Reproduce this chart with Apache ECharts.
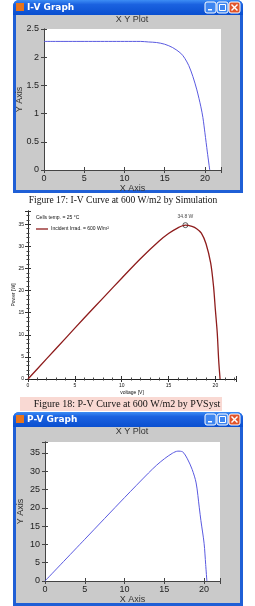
<!DOCTYPE html>
<html>
<head>
<meta charset="utf-8">
<script src="https://cdn.jsdelivr.net/npm/echarts@6/dist/echarts.min.js"></script>
<style>
  html, body { margin: 0; padding: 0; background: #fff; }
  #chart { width: 255px; height: 606px; }
</style>
</head>
<body>
<div id="chart"></div>
<script>
// I-V curve, simulation (Figure 17)
const ivVoltage = [0, 2, 4, 6, 8, 10, 12, 13, 14, 15, 16, 17, 17.5, 18, 18.5, 19, 19.5, 19.75, 20, 20.3, 20.6]
const ivCurrent = [2.28, 2.28, 2.28, 2.28, 2.28, 2.28, 2.28, 2.27, 2.26, 2.23, 2.17, 2.07, 1.98, 1.85, 1.66, 1.42, 1.12, 0.93, 0.66, 0.32, 0]

// P-V curve, PVSyst (Figure 18)
const pvsystVoltage = [0, 2, 4, 6, 8, 10, 12, 14, 15, 16, 16.8, 17.5, 18, 18.5, 19, 19.5, 19.8, 20, 20.2, 20.35, 20.5]
const pvsystPower = [0, 4.6, 9.2, 13.8, 18.3, 22.8, 27.2, 31.2, 32.9, 34.2, 34.8, 34.5, 34.0, 33.0, 30.6, 26.2, 21.0, 15.6, 10.4, 4.3, 0]
const pvsystPeak = [16.8, 34.8]

// P-V curve, simulation
const pvVoltage = [0, 5, 10, 13, 14, 15, 16, 16.7, 17.3, 17.9, 18.5, 19, 19.4, 19.6, 20, 20.2, 20.35]
const pvPower = [0, 11.4, 22.8, 29.5, 31.6, 33.4, 34.9, 35.5, 35.3, 33.4, 30.5, 26.8, 20.0, 16.5, 10.3, 4.5, 0]

const pair = (xs, ys) => xs.map((x, i) => [x, ys[i]])

const matFont = 'Liberation Sans, Arial, sans-serif'
const serif = 'Liberation Serif, Times New Roman, serif'

// only label the nice ticks, not the axis end
const onStep = step => v => (Math.abs(v / step - Math.round(v / step)) < 1e-6 ? String(v) : '')

function matX(grid, show) {
  return {
    type: 'value', gridIndex: grid, min: 0, max: 22, interval: 5,
    position: show ? 'bottom' : 'top',
    name: show ? 'X Axis' : '', nameLocation: 'middle', nameGap: 14,
    nameTextStyle: { fontSize: 9, color: '#333', fontFamily: matFont },
    axisLine: { show: true, lineStyle: { color: '#444', width: 1 } },
    axisTick: { show: true, inside: true, length: 3, lineStyle: { color: '#444' } },
    axisLabel: { show: show, fontSize: 9, color: '#222', fontFamily: matFont, margin: 4, formatter: onStep(5) },
    splitLine: { show: false }
  }
}
function matY(grid, show, max, interval) {
  return {
    type: 'value', gridIndex: grid, min: 0, max: max, interval: interval,
    position: show ? 'left' : 'right',
    name: show ? 'Y Axis' : '', nameLocation: 'middle', nameGap: 20, nameMoveOverlap: false,
    nameTextStyle: { fontSize: 9, color: '#333', fontFamily: matFont },
    axisLine: { show: true, lineStyle: { color: '#444', width: 1 } },
    axisTick: { show: true, inside: true, length: 3, lineStyle: { color: '#444' } },
    axisLabel: { show: show, fontSize: 9, color: '#222', fontFamily: matFont, margin: 5, formatter: onStep(interval) },
    splitLine: { show: false }
  }
}
function pvsX(show) {
  return {
    type: 'value', gridIndex: 1, min: 0, max: 22.2, interval: 5,
    position: show ? 'bottom' : 'top',
    name: show ? 'voltage [V]' : '', nameLocation: 'middle', nameGap: 11,
    nameTextStyle: { fontSize: 5, color: '#111', fontFamily: matFont },
    axisLine: { show: true, lineStyle: { color: '#222', width: 1 } },
    axisTick: { show: true, inside: true, length: 3, lineStyle: { color: '#333' } },
    minorTick: { show: true, splitNumber: 5, length: 1.5, lineStyle: { color: '#444' } },
    axisLabel: { show: show, fontSize: 5, color: '#111', fontFamily: matFont, margin: 4, formatter: onStep(5) },
    splitLine: { show: false }
  }
}
function pvsY(show) {
  return {
    type: 'value', gridIndex: 1, min: 0, max: 38, interval: 5,
    position: show ? 'left' : 'right',
    name: show ? 'Power [W]' : '', nameLocation: 'middle', nameGap: 12, nameMoveOverlap: false,
    nameTextStyle: { fontSize: 5, color: '#111', fontFamily: matFont },
    axisLine: { show: true, lineStyle: { color: '#222', width: 1 } },
    axisTick: { show: true, inside: true, length: 3, lineStyle: { color: '#333' } },
    minorTick: { show: true, splitNumber: 5, length: 1.5, lineStyle: { color: '#444' } },
    axisLabel: { show: show, fontSize: 5, color: '#111', fontFamily: matFont, margin: 4, formatter: onStep(5) },
    splitLine: { show: false }
  }
}

// XP style window frame
function windowFrame(top, bottom, title) {
  const els = [
    { type: 'rect', z: -10, shape: { x: 13, y: top, width: 230, height: bottom - top, r: [6, 6, 0, 0] },
      style: { fill: '#1f5fd6' } },
    { type: 'rect', z: -9, shape: { x: 13, y: top, width: 230, height: 15, r: [6, 6, 0, 0] },
      style: { fill: new echarts.graphic.LinearGradient(0, 0, 0, 1, [
        { offset: 0, color: '#3d8df5' }, { offset: 0.3, color: '#1b62e0' }, { offset: 1, color: '#0a4fd0' }]) } },
    { type: 'rect', z: -8, shape: { x: 16, y: top + 15, width: 224, height: bottom - top - 18 },
      style: { fill: '#cacaca' } },
    { type: 'rect', z: -7, shape: { x: 16, y: top + 3, width: 8, height: 8 }, style: { fill: '#e8741c' } },
    { type: 'text', z: -7, style: { x: 27, y: top + 8, text: title, fill: '#fff', fontSize: 9, fontWeight: 'bold',
      fontFamily: 'DejaVu Sans, sans-serif', verticalAlign: 'middle' } }
  ]
  const bx = [205, 217]
  bx.forEach(x => els.push({ type: 'rect', z: -7, shape: { x: x, y: top + 2, width: 11, height: 11, r: 2 },
    style: { fill: '#3f86f0', stroke: '#fff', lineWidth: 1 } }))
  els.push({ type: 'rect', z: -6, shape: { x: 208, y: top + 9, width: 4, height: 1.5 }, style: { fill: '#fff' } })
  els.push({ type: 'rect', z: -6, shape: { x: 219.5, y: top + 4.5, width: 6, height: 6 }, style: { fill: 'none', stroke: '#fff', lineWidth: 1 } })
  els.push({ type: 'rect', z: -7, shape: { x: 229, y: top + 2, width: 11, height: 11, r: 2 },
    style: { fill: '#e2552b', stroke: '#fff', lineWidth: 1 } })
  els.push({ type: 'line', z: -6, shape: { x1: 231.5, y1: top + 4.5, x2: 237.5, y2: top + 10.5 }, style: { stroke: '#fff', lineWidth: 1.5 } })
  els.push({ type: 'line', z: -6, shape: { x1: 237.5, y1: top + 4.5, x2: 231.5, y2: top + 10.5 }, style: { stroke: '#fff', lineWidth: 1.5 } })
  els.push({ type: 'text', z: -7, style: { x: 132, y: top + 20, text: 'X Y Plot', fill: '#333', fontSize: 9,
    fontFamily: matFont, align: 'center', verticalAlign: 'middle' } })
  return els
}

const chart = echarts.init(document.getElementById('chart'))

chart.setOption({
  animation: false,
  backgroundColor: '#fff',
  grid: [
    { left: 44, top: 29, width: 177, height: 141, show: true, backgroundColor: '#fff', borderWidth: 0 },
    { left: 28, top: 211, width: 208, height: 168, show: true, backgroundColor: '#fff', borderWidth: 0 },
    { left: 45, top: 442, width: 175, height: 139, show: true, backgroundColor: '#fff', borderWidth: 0 }
  ],
  xAxis: [matX(0, true), matX(0, false), pvsX(true), pvsX(false), matX(2, true), matX(2, false)],
  yAxis: [matY(0, true, 2.5, 0.5), matY(0, false, 2.5, 0.5), pvsY(true), pvsY(false), matY(2, true, 38, 5), matY(2, false, 38, 5)],
  series: [
    { type: 'line', xAxisIndex: 0, yAxisIndex: 0, data: pair(ivVoltage, ivCurrent), smooth: 0.3, symbol: 'none',
      lineStyle: { color: '#5a5ae0', width: 1 } },
    { type: 'line', xAxisIndex: 2, yAxisIndex: 2, data: pair(pvsystVoltage, pvsystPower), smooth: 0.3, symbol: 'none',
      lineStyle: { color: '#8e1c1c', width: 1.3 } },
    { type: 'scatter', xAxisIndex: 2, yAxisIndex: 2, data: [pvsystPeak], symbol: 'circle', symbolSize: 5,
      itemStyle: { color: '#fff', borderColor: '#333', borderWidth: 1 },
      label: { show: true, position: 'top', distance: 3, formatter: p => p.value[1] + ' W', fontSize: 5, color: '#111', fontFamily: matFont } },
    { type: 'line', xAxisIndex: 4, yAxisIndex: 4, data: pair(pvVoltage, pvPower), smooth: 0.3, symbol: 'none',
      lineStyle: { color: '#5a5ae0', width: 1 } }
  ],
  graphic: [
    ...windowFrame(0, 193, 'I-V Graph'),
    ...windowFrame(412, 606, 'P-V Graph'),
    { type: 'text', style: { x: 123, y: 200, text: 'Figure 17: I-V Curve at 600 W/m2 by Simulation', fill: '#111',
      fontSize: 9.5, fontFamily: serif, align: 'center', verticalAlign: 'middle' } },
    { type: 'rect', z: -5, shape: { x: 20, y: 397, width: 202, height: 14 }, style: { fill: '#f9d9d3' } },
    { type: 'text', style: { x: 127, y: 404, text: 'Figure 18: P-V Curve at 600 W/m2 by PVSyst', fill: '#111',
      fontSize: 10, fontFamily: serif, align: 'center', verticalAlign: 'middle' } },
    { type: 'text', z: 10, style: { x: 36, y: 218, text: 'Cells temp. = 25 °C', fill: '#111', fontSize: 5, fontFamily: matFont, verticalAlign: 'middle' } },
    { type: 'line', z: 10, shape: { x1: 36, y1: 229, x2: 48, y2: 229 }, style: { stroke: '#8e1c1c', lineWidth: 1.3 } },
    { type: 'text', z: 10, style: { x: 51, y: 229, text: 'Incident Irrad. = 600 W/m²', fill: '#111', fontSize: 5, fontFamily: matFont, verticalAlign: 'middle' } }
  ]
})
</script>
</body>
</html>
